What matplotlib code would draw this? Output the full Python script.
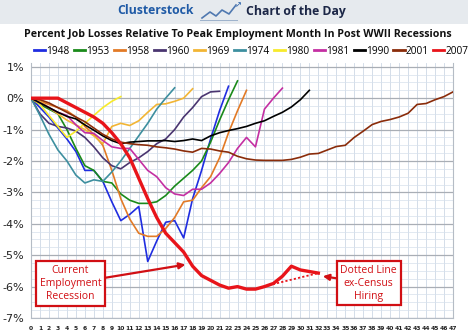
import matplotlib
matplotlib.use("Agg")
import matplotlib.pyplot as plt
from matplotlib.lines import Line2D
from matplotlib.patches import Rectangle
import numpy as np

W, H = 468, 336

years = ["1948", "1953", "1958", "1960", "1969", "1974", "1980", "1981", "1990", "2001", "2007"]
colors = ["#1f2de0", "#1a8a1a", "#e27a26", "#4a3570", "#f2b534", "#3d8f9f",
          "#f7ea2c", "#c42fa2", "#000000", "#8a2c0a", "#e8141a"]

s1948 = [0, -0.3, -0.6, -0.95, -1.3, -1.7, -2.3, -2.3, -2.65, -3.3, -3.9, -3.7, -3.45,
         -5.2, -4.55, -3.95, -3.9, -4.45, -3.2, -2.3, -1.3, -0.4, 0.38]
s1953 = [0, -0.2, -0.35, -0.5, -1.0, -1.6, -2.15, -2.3, -2.65, -2.7, -3.05, -3.25, -3.35,
         -3.35, -3.3, -3.1, -2.8, -2.55, -2.3, -2.0, -1.4, -0.7, -0.05, 0.55]
s1958 = [0, -0.1, -0.2, -0.3, -0.4, -0.6, -0.9, -1.15, -1.5, -2.3, -3.2, -3.85, -4.3,
         -4.4, -4.4, -4.15, -3.8, -3.3, -3.25, -2.85, -2.5, -1.9, -1.1, -0.4, 0.25]
s1960 = [0, -0.5, -0.8, -0.9, -0.95, -1.05, -1.25, -1.55, -1.9, -2.15, -2.25, -2.05,
         -1.9, -1.7, -1.45, -1.3, -1.0, -0.6, -0.3, 0.05, 0.2, 0.22]
s1969 = [0, -0.1, -0.3, -0.5, -0.7, -0.85, -1.0, -1.2, -1.45, -0.9, -0.8, -0.87, -0.72,
         -0.45, -0.2, -0.18, -0.1, 0.0, 0.3]
s1974 = [0, -0.55, -1.15, -1.65, -2.0, -2.45, -2.7, -2.6, -2.65, -2.35, -2.0, -1.6,
         -1.2, -0.8, -0.35, 0.0, 0.33]
s1980 = [0, -0.2, -0.55, -0.9, -1.25, -1.05, -0.8, -0.55, -0.3, -0.1, 0.05]
s1981 = [0, -0.15, -0.3, -0.45, -0.55, -0.85, -1.1, -1.12, -1.35, -1.55, -1.6, -1.6,
         -1.95, -2.3, -2.5, -2.85, -3.05, -3.1, -2.9, -2.9, -2.7, -2.4, -2.05, -1.6,
         -1.25, -1.55, -0.35, 0.0, 0.32]
s1990 = [0, -0.15, -0.3, -0.45, -0.58, -0.66, -0.85, -1.02, -1.2, -1.35, -1.45, -1.4,
         -1.38, -1.36, -1.36, -1.35, -1.38, -1.35, -1.3, -1.35, -1.2, -1.1, -1.03,
         -0.97, -0.9, -0.8, -0.72, -0.58, -0.45, -0.28, -0.05, 0.25]
s2001 = [0, -0.05, -0.15, -0.3, -0.45, -0.6, -0.75, -0.95, -1.15, -1.3, -1.4, -1.45,
         -1.48, -1.5, -1.55, -1.58, -1.62, -1.68, -1.72, -1.6, -1.62, -1.68, -1.72,
         -1.85, -1.93, -1.97, -1.98, -1.98, -1.98, -1.95, -1.88, -1.78, -1.76, -1.65,
         -1.54, -1.5, -1.25, -1.05, -0.84, -0.74, -0.68, -0.6, -0.48, -0.2, -0.17,
         -0.05, 0.05, 0.2]
s2007 = [0, 0, 0, 0, -0.15, -0.3, -0.45, -0.6, -0.8, -1.1, -1.45, -1.9, -2.55, -3.2,
         -3.8, -4.3, -4.6, -4.9, -5.35, -5.65, -5.8, -5.95, -6.05, -6.0, -6.08, -6.08,
         -6.0, -5.9, -5.67, -5.35, -5.47, -5.52, -5.57]
census_months = [26, 27, 28, 29, 30, 31, 32]
census_vals = [-6.0, -5.92, -5.85, -5.78, -5.71, -5.64, -5.57]

series = [s1948, s1953, s1958, s1960, s1969, s1974, s1980, s1981, s1990, s2001, s2007]

x_ticks = list(range(48))
y_ticks = [1, 0, -1, -2, -3, -4, -5, -6, -7]
y_labels = ["1%", "0%", "-1%", "-2%", "-3%", "-4%", "-5%", "-6%", "-7%"]

fig = plt.figure(figsize=(W / 100, H / 100), dpi=100)

# header band
fig.patches.append(Rectangle((0, 1 - 24 / H), 1, 24 / H, transform=fig.transFigure,
                             facecolor="#e6eaee", edgecolor="none", zorder=0))
fig.text(156 / W, 1 - 11 / H, "Clusterstock", color="#1f5aa6", fontsize=8.8,
         fontweight="bold", ha="center", va="center", family="Open Sans")
fig.text(296 / W, 1 - 11 / H, "Chart of the Day", color="#1c2747", fontsize=8.8,
         fontweight="bold", ha="center", va="center", family="Open Sans")
# small icon
ix = np.array([202, 210, 216, 222, 229, 236]) / W
iy = 1 - np.array([18, 12, 16, 10, 14, 5]) / H
fig.lines.append(Line2D(ix, iy, transform=fig.transFigure, color="#4f78b0", lw=1.2))
fig.patches.append(Rectangle((200 / W, 1 - 21 / H), 38 / W, 1 / H, transform=fig.transFigure,
                             facecolor="#9fb3cc", edgecolor="none"))
fig.text(238 / W, 1 - 5 / H, "\u2197", color="#1f5aa6", fontsize=6, ha="center", va="center")

fig.text(238 / W, 1 - 34 / H,
         "Percent Job Losses Relative To Peak Employment Month In Post WWII Recessions",
         fontsize=7.7, fontweight="bold", ha="center", va="center", family="Open Sans",
         color="#111111")

ax = fig.add_axes([31 / W, 1 - 318 / H, (453 - 31) / W, (318 - 63) / H])
ax.set_xlim(0, 47)
ax.set_ylim(-7, 1.12)

ax.set_yticks(np.arange(-7, 1.01, 0.25), minor=True)
ax.set_yticks(y_ticks)
ax.set_yticklabels(y_labels, fontsize=8, color="#222222")
ax.set_xticks(x_ticks)
ax.set_xticklabels([str(v) for v in x_ticks], fontsize=4.3, fontweight="bold", color="#222222")
ax.tick_params(axis="both", which="both", length=0)
ax.tick_params(axis="x", pad=6)
ax.tick_params(axis="y", pad=5)

ax.grid(True, axis="x", which="major", color="#cdd8e5", lw=0.6)
ax.grid(True, axis="y", which="minor", color="#d6e0ec", lw=0.5)
ax.grid(True, axis="y", which="major", color="#a9aeb5", lw=0.9)
ax.set_axisbelow(True)
ax.spines["top"].set_visible(False)
for sp in ["left", "right", "bottom"]:
    ax.spines[sp].set_color("#b5bcc5")
    ax.spines[sp].set_linewidth(0.8)

handles = []
for yr, col, vals in zip(years, colors, series):
    lw = 2.4 if yr == "2007" else 1.2
    h, = ax.plot(range(len(vals)), vals, color=col, lw=lw, label=yr,
                 zorder=5 if yr == "2007" else 3, solid_joinstyle="round")
    handles.append(h)

ax.plot(census_months, census_vals, color="#e8141a", lw=1.3, ls=(0, (1.2, 1.2)), zorder=4)

fig.legend(handles=[Line2D([0], [0], color=c, lw=2) for c in colors], labels=years,
           loc="center left", bbox_to_anchor=(34 / W, 1 - 51 / H), ncol=11,
           frameon=False, handlelength=1.1, handletextpad=0.1,
           columnspacing=0.45, borderaxespad=0, borderpad=0,
           prop={"family": "Open Sans", "size": 7.3})

red = "#d10f14"
box = dict(boxstyle="square,pad=0.35", fc="white", ec=red, lw=1.6)
ax.annotate("Current\nEmployment\nRecession", xy=(17.2, -5.3), xytext=(4.4, -5.9),
            fontsize=7.5, color=red, ha="center", va="center", bbox=box,
            family="Open Sans", linespacing=1.25,
            arrowprops=dict(arrowstyle="-|>", color=red, lw=1.6, mutation_scale=9,
                            shrinkA=0, shrinkB=0), zorder=10)
ax.annotate("Dotted Line\nex-Census\nHiring", xy=(32.5, -5.67), xytext=(37.6, -5.89),
            fontsize=7.5, color=red, ha="center", va="center", bbox=box,
            family="Open Sans", linespacing=1.25,
            arrowprops=dict(arrowstyle="-|>", color=red, lw=1.6, mutation_scale=9,
                            shrinkA=0, shrinkB=0), zorder=10)

fig.savefig("out.png", dpi=100)
